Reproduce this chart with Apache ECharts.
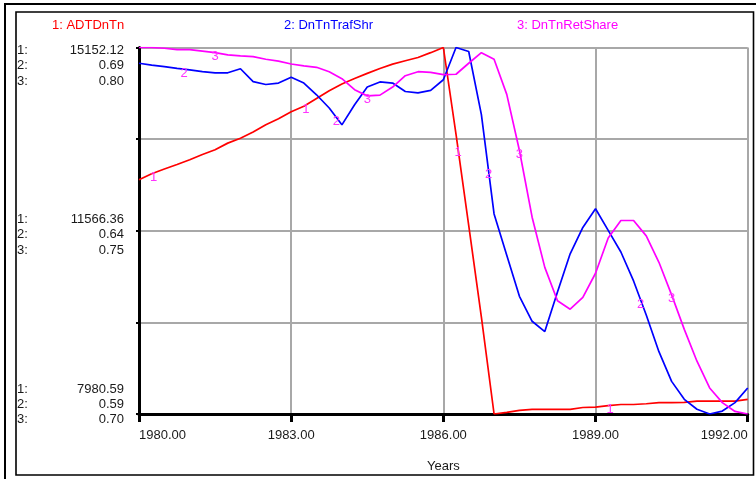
<!DOCTYPE html>
<html>
<head>
<meta charset="utf-8">
<script src="https://cdn.jsdelivr.net/npm/echarts@6/dist/echarts.min.js"></script>
<style>
  html, body { margin: 0; padding: 0; background: #fff; }
  #chart { width: 756px; height: 479px; }
</style>
</head>
<body>
<div id="chart"></div>
<script>
// Simulation time points (quarter-year steps)
const years = [
  1980, 1980.25, 1980.5, 1980.75, 1981, 1981.25, 1981.5, 1981.75,
  1982, 1982.25, 1982.5, 1982.75, 1983, 1983.25, 1983.5, 1983.75,
  1984, 1984.25, 1984.5, 1984.75, 1985, 1985.25, 1985.5, 1985.75,
  1986, 1986.25, 1986.5, 1986.75, 1987, 1987.25, 1987.5, 1987.75,
  1988, 1988.25, 1988.5, 1988.75, 1989, 1989.25, 1989.5, 1989.75,
  1990, 1990.25, 1990.5, 1990.75, 1991, 1991.25, 1991.5, 1991.75, 1992
];

const seriesNames = ['ADTDnTn', 'DnTnTrafShr', 'DnTnRetShare'];

// 1: ADTDnTn
const adtDnTn = [
  12566, 12681, 12775, 12862, 12956, 13057, 13151, 13281,
  13375, 13498, 13642, 13758, 13895, 14003, 14155, 14307,
  14437, 14545, 14646, 14740, 14827, 14892, 14957, 15051,
  15152.12, 13454, 11670, 9876, 7980.59, 8014, 8050, 8072,
  8072, 8072, 8072, 8108, 8115, 8144, 8166, 8166,
  8181, 8202, 8202, 8209, 8231, 8231, 8231, 8231, 8267
];

// 2: DnTnTrafShr
const dnTnTrafShr = [
  0.6857, 0.6852, 0.6848, 0.6843, 0.6839, 0.6834, 0.6831, 0.6831,
  0.6842, 0.6807, 0.6799, 0.6803, 0.6819, 0.6803, 0.6771, 0.6735,
  0.6689, 0.6744, 0.6792, 0.6806, 0.6803, 0.6780, 0.6776, 0.6783,
  0.6812, 0.6900, 0.6889, 0.6717, 0.6446, 0.6333, 0.6221, 0.6153,
  0.6125, 0.6233, 0.6337, 0.6409, 0.6460, 0.6401, 0.6342, 0.6263,
  0.6170, 0.6070, 0.5989, 0.5940, 0.5913, 0.5900, 0.5908, 0.5931, 0.5971
];

// 3: DnTnRetShare
const dnTnRetShare = [
  0.8000, 0.8000, 0.7998, 0.7994, 0.7994, 0.7990, 0.7986, 0.7980,
  0.7977, 0.7975, 0.7968, 0.7963, 0.7955, 0.7950, 0.7946, 0.7934,
  0.7915, 0.7885, 0.7868, 0.7870, 0.7892, 0.7923, 0.7934, 0.7932,
  0.7926, 0.7927, 0.7957, 0.7986, 0.7968, 0.7872, 0.7719, 0.7537,
  0.7400, 0.7309, 0.7286, 0.7318, 0.7384, 0.7480, 0.7528, 0.7528,
  0.7486, 0.7414, 0.7325, 0.7231, 0.7144, 0.7071, 0.7031, 0.7007, 0.7000
];

// Per-series scale labels (bottom, middle, top)
const scale1 = [7980.59, 11566.36, 15152.12];
const scale2 = [0.59, 0.64, 0.69];
const scale3 = [0.70, 0.75, 0.80];

const seriesData = [adtDnTn, dnTnTrafShr, dnTnRetShare];
const scales = [scale1, scale2, scale3];
const colors = ['#ff0000', '#0000ff', '#ff00ff'];
const tagColor = '#ff33ff';
const FONT = '"Liberation Sans", Arial, sans-serif';

// Years after the start at which each curve's number tag first appears; repeats every 3 years
const tagStart = [0.29, 0.89, 1.5];
const tagRepeat = 3;

const chart = echarts.init(document.getElementById('chart'), null, { renderer: 'canvas' });

const grid = { left: 139, right: 8.3, top: 47.5, bottom: 65 };

const option = {
  animation: false,
  backgroundColor: '#fff',
  textStyle: { fontFamily: FONT },
  grid: grid,
  legend: seriesNames.map((n, i) => ({
    data: [{ name: n }],
    left: [47, 279, 512][i],
    top: 18,
    icon: 'none',
    itemWidth: 0,
    itemHeight: 14,
    padding: 0,
    selectedMode: false,
    textStyle: { color: colors[i], fontSize: 13, fontFamily: FONT },
    formatter: name => (i + 1) + ': ' + name
  })),
  xAxis: {
    type: 'value',
    min: years[0],
    max: years[years.length - 1],
    interval: 3,
    name: 'Years',
    nameLocation: 'middle',
    nameGap: 46,
    nameTextStyle: { color: '#1a1a1a', fontSize: 13, fontFamily: FONT },
    axisLine: { show: true, onZero: false, lineStyle: { color: '#000', width: 3 } },
    axisTick: { show: true, length: 8, lineStyle: { color: '#000', width: 3 } },
    axisLabel: {
      color: '#1a1a1a', fontSize: 13, fontFamily: FONT, margin: 15,
      alignMinLabel: 'left', alignMaxLabel: 'right',
      formatter: v => v.toFixed(2)
    },
    splitLine: { show: true, lineStyle: { color: '#a8a8a8', width: 2 } }
  },
  yAxis: [
    { type: 'value', position: 'left', min: scale1[0], max: scale1[2], show: false },
    { type: 'value', position: 'left', min: scale2[0], max: scale2[2], show: false },
    { type: 'value', position: 'left', min: scale3[0], max: scale3[2], show: false },
    {
      // shared frame axis: grid lines in quarters of the height
      type: 'value', position: 'left', offset: 0, min: 0, max: 4, interval: 1,
      axisLine: { show: true, onZero: false, lineStyle: { color: '#000', width: 3 } },
      axisTick: { show: true, length: 3, lineStyle: { color: '#000', width: 2 } },
      axisLabel: { show: false },
      splitLine: { show: true, lineStyle: { color: '#a8a8a8', width: 2 } }
    }
  ],
  series: seriesNames.map((n, i) => ({
    name: n,
    type: 'line',
    yAxisIndex: i,
    showSymbol: false,
    symbol: 'none',
    color: colors[i],
    lineStyle: { color: colors[i], width: 1.7 },
    data: years.map((y, k) => [y, seriesData[i][k]])
  }))
};

chart.setOption(option);

// Overlay: frames, per-series scale labels and numbered curve tags
const graphics = [];

graphics.push({
  type: 'rect', silent: true,
  shape: { x: 5, y: 4, width: 760, height: 490 },
  style: { fill: 'none', stroke: '#000', lineWidth: 2 }
});
graphics.push({
  type: 'rect', silent: true,
  shape: { x: 16, y: 12, width: 737.5, height: 463 },
  style: { fill: 'none', stroke: '#000', lineWidth: 1.6 }
});

// Scale label blocks: bottom block sits above the axis, top block hangs below the top line
const blockOffset = [-25, -11.25, 3];
const rowGap = 15.3;
for (let j = 0; j < 3; j++) {
  const py = chart.convertToPixel({ yAxisIndex: 0 }, scale1[j]);
  for (let s = 0; s < 3; s++) {
    const y = py + blockOffset[j] + s * rowGap;
    graphics.push({
      type: 'text', silent: true, x: 17, y: y,
      style: { text: (s + 1) + ':', fill: '#1a1a1a', font: '13px ' + FONT,
               align: 'left', verticalAlign: 'middle' }
    });
    graphics.push({
      type: 'text', silent: true, x: 124, y: y,
      style: { text: scales[s][j].toFixed(2), fill: '#1a1a1a', font: '13px ' + FONT,
               align: 'right', verticalAlign: 'middle' }
    });
  }
}

// Numbered tags placed along each drawn polyline
for (let s = 0; s < 3; s++) {
  for (let t = years[0] + tagStart[s]; t < years[years.length - 1]; t += tagRepeat) {
    let i = 0;
    while (i < years.length - 2 && years[i + 1] <= t) i++;
    const p0 = chart.convertToPixel({ xAxisIndex: 0, yAxisIndex: s }, [years[i], seriesData[s][i]]);
    const p1 = chart.convertToPixel({ xAxisIndex: 0, yAxisIndex: s }, [years[i + 1], seriesData[s][i + 1]]);
    const r = (t - years[i]) / (years[i + 1] - years[i]);
    const x = p0[0] + (p1[0] - p0[0]) * r;
    const y = p0[1] + (p1[1] - p0[1]) * r;
    graphics.push({
      type: 'text', silent: true, x: x, y: y + 4, z: 10,
      style: { text: String(s + 1), fill: tagColor, font: '13px ' + FONT,
               align: 'center', verticalAlign: 'middle' }
    });
  }
}

chart.setOption({ graphic: graphics });
</script>
</body>
</html>
